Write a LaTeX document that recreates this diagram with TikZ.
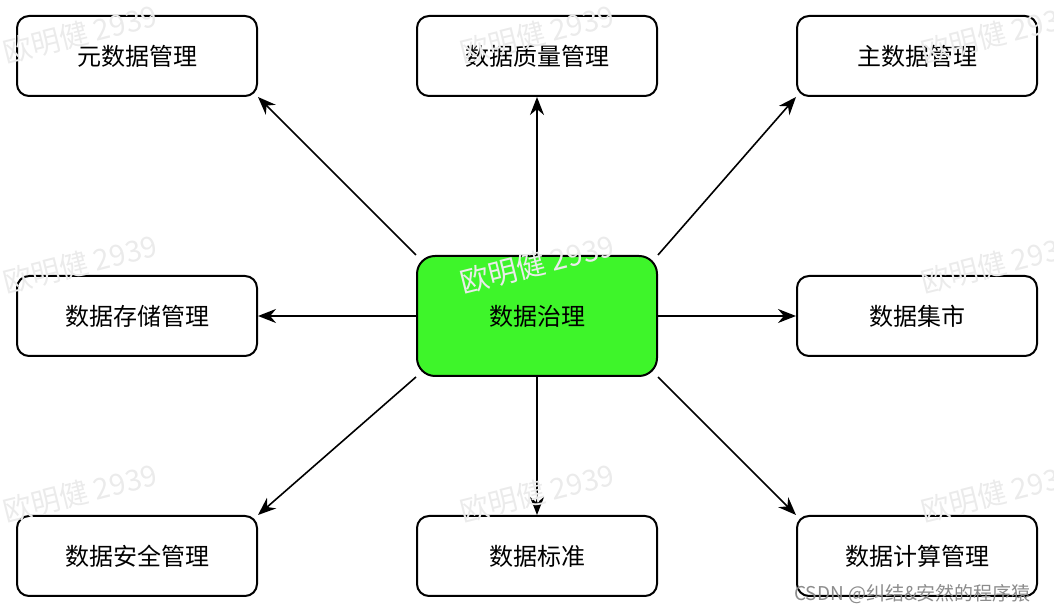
\documentclass[tikz,border=0pt]{standalone}
\usepackage{fontspec}
\setmainfont{Noto Sans CJK SC}
\usetikzlibrary{arrows.meta}
\definecolor{hubgreen}{RGB}{62,245,42}

\begin{document}
\begin{tikzpicture}[x=5pt,y=5pt,
  box/.style={draw,line width=1pt,rounded corners=6pt,minimum width=120pt,minimum height=40pt,inner sep=0pt,font=\fontsize{12}{14}\selectfont},
  hub/.style={box,fill=hubgreen,minimum height=60pt,rounded corners=9pt},
  arr/.style={-{Stealth[length=9pt,width=7pt]},line width=0.8pt},
  wm/.style={text=black!8,rotate=14,font=\fontsize{14.5}{16}\selectfont}]
\useasboundingbox (0,0) rectangle (105.4,61.4);
\node[hub] (gov) at (53.7,29.8) {数据治理};
\foreach \n/\x/\y/\t in {meta/13.7/55.8/元数据管理, qual/53.7/55.8/数据质量管理, master/91.7/55.8/主数据管理,
  store/13.7/29.8/数据存储管理, mart/91.7/29.8/数据集市,
  sec/13.7/5.8/数据安全管理, std/53.7/5.8/数据标准, comp/91.7/5.8/数据计算管理}
  \node[box] (\n) at (\x,\y) {\t};
\foreach \a/\b in {north west/meta.south east, north/qual.south, north east/master.south west,
  west/store.east, east/mart.west,
  south west/sec.north east, south/std.north, south east/comp.north west}
  \draw[arr] (gov.\a) -- (\b);
\foreach \x [count=\i] in {8.0,53.7,99.8}
  \foreach \y [count=\j] in {58.0,35.0,12.1}
    \node[wm] (wm\i\j) at (\x,\y) {欧明健 2939};
\node[anchor=base east,text=black!45,font=\fontsize{9.5}{11}\selectfont] (csdn) at (103.8,1.3) {CSDN @纠结\&安然的程序猿};
\end{tikzpicture}
\end{document}
